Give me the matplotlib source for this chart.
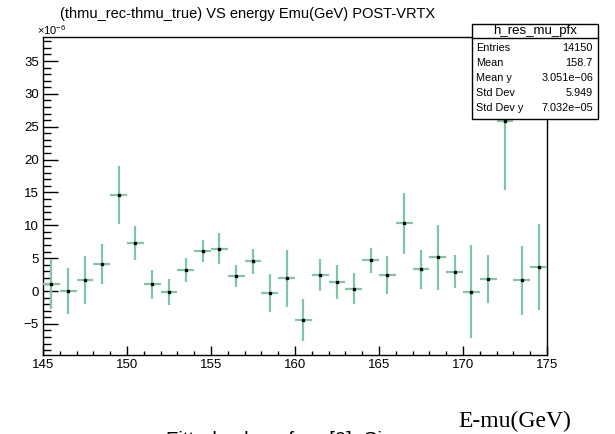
import numpy as np
import matplotlib
matplotlib.use("Agg")
import matplotlib.pyplot as plt
from matplotlib.patches import Rectangle
from matplotlib.ticker import MultipleLocator

plt.rcParams['font.family'] = ['Liberation Sans', 'DejaVu Sans']
plt.rcParams['mathtext.fontset'] = 'custom'
plt.rcParams['mathtext.rm'] = 'Liberation Sans'

# profile bins (Emu in GeV), values in units of 1e-6
bin_centers = np.arange(145.5, 175.0, 1.0)
res_mean = [1.07, 0.05, 1.7, 4.1, 14.6, 7.35, 1.0, -0.15, 3.2, 6.1,
            6.45, 2.33, 4.5, -0.25, 1.93, -4.4, 2.4, 1.42, 0.35, 4.7,
            2.5, 10.3, 3.3, 5.17, 2.94, -0.1, 1.83, 25.8, 1.67, 3.7]
res_err = [3.8, 3.5, 3.7, 3.0, 4.4, 2.6, 2.2, 2.0, 1.8, 1.7,
           2.4, 1.7, 1.9, 2.9, 4.3, 3.2, 2.45, 2.6, 2.35, 1.9,
           2.9, 4.6, 2.95, 4.95, 2.5, 7.05, 3.7, 10.4, 5.25, 6.55]

stat_names = ["Entries", "Mean", "Mean y", "Std Dev", "Std Dev y"]
stat_values = ["14150", "158.7", "3.051e\u221206", "5.949", "7.032e\u221205"]

W, H = 615, 434
fig = plt.figure(figsize=(W / 100, H / 100), dpi=100)
ax = fig.add_axes([43 / W, 1 - 355 / H, 504 / W, 318 / H])

ax.errorbar(bin_centers, res_mean, xerr=0.5, yerr=res_err, fmt='s', ms=2,
            mfc='black', mec='black', ecolor='#7fc7a4', elinewidth=1.6,
            capsize=0, zorder=3)

ax.set_xlim(145, 175)
ax.set_ylim(-9.74, 38.66)
ax.xaxis.set_major_locator(MultipleLocator(5))
ax.xaxis.set_minor_locator(MultipleLocator(1))
ax.yaxis.set_major_locator(MultipleLocator(5))
ax.yaxis.set_minor_locator(MultipleLocator(1))
ax.tick_params(axis='both', which='both', direction='in', top=False, right=False,
               labelsize=9.5, width=1.0, color='black')
ax.tick_params(axis='y', which='major', length=11, pad=3)
ax.tick_params(axis='y', which='minor', length=5.8)
ax.tick_params(axis='x', which='major', length=6.5, pad=3)
ax.tick_params(axis='x', which='minor', length=3)
ax.set_yticklabels([("\u2212%d" % -v) if v < 0 else "%d" % v for v in ax.get_yticks()])
for s in ax.spines.values():
    s.set_linewidth(1.0)

fig.text(37 / W, 1 - 35 / H, r'$\times10^{-6}$', fontsize=8, ha='left', va='baseline')

fig.text(248 / W, 1 - 18 / H, "(thmu_rec-thmu_true) VS energy Emu(GeV) POST-VRTX",
         fontsize=10.5, ha='center', va='baseline')

# stats box
bx0, bx1, by0, by1 = 471.5, 598, 24, 119
fig.patches.append(Rectangle((bx0 / W, 1 - by1 / H), (bx1 - bx0) / W, (by1 - by0) / H,
                             transform=fig.transFigure, facecolor='white',
                             edgecolor='black', linewidth=1.0, zorder=5))
fig.add_artist(plt.Line2D([bx0 / W, bx1 / W], [1 - 38 / H, 1 - 38 / H],
                          transform=fig.transFigure, color='black', lw=1.0, zorder=6))
fig.text((bx0 + bx1) / 2 / W, 1 - 31 / H, "h_res_mu_pfx", fontsize=9.5,
         ha='center', va='center', zorder=7)
for i, (n, v) in enumerate(zip(stat_names, stat_values)):
    yy = 1 - (48 + 15 * i) / H
    fig.text(476 / W, yy, n, fontsize=7.8, ha='left', va='center', zorder=7)
    fig.text(593 / W, yy, v, fontsize=7.8, ha='right', va='center', zorder=7)

fig.text(458 / W, 1 - 427 / H, "E-mu(GeV)", fontsize=17,
         family=['Liberation Serif', 'DejaVu Serif'], ha='left', va='baseline')
# caption below the canvas, only its top edge shows (as in the reference)
fig.text(166 / W, 1 - 446 / H, "Fitted value of par[0]=Sigma", fontsize=14.7,
         ha='left', va='baseline')

fig.savefig("out.png", dpi=100)
